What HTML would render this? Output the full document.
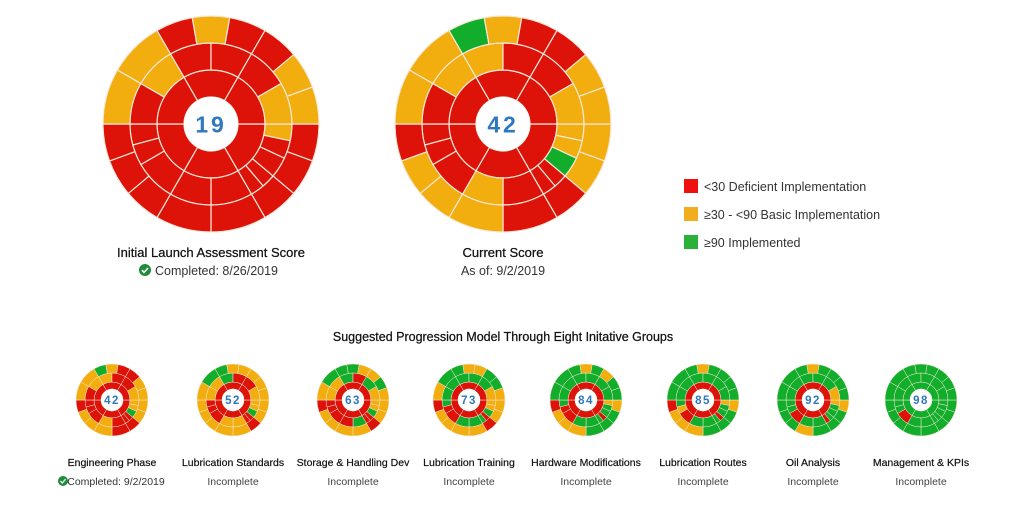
<!DOCTYPE html>
<html><head><meta charset="utf-8"><style>
body{margin:0;background:#fff;font-family:"Liberation Sans",sans-serif;}
svg text{font-family:"Liberation Sans",sans-serif;}
</style></head><body>
<svg id="s" width="1024" height="500" xmlns="http://www.w3.org/2000/svg">
<rect width="1024" height="500" fill="#fff"/>
<g id="charts"></g>
<text x="211" y="257" text-anchor="middle" font-size="13" fill="#111" stroke="#111" stroke-width="0.25">Initial Launch Assessment Score</text>
<circle cx="145" cy="270" r="6" fill="#1e8a3a"/><path d="M142 270 l2 2.5 l4 -4.5" stroke="#fff" stroke-width="1.6" fill="none"/>
<text x="155" y="275" font-size="12.5" fill="#333">Completed: 8/26/2019</text>
<text x="503" y="257" text-anchor="middle" font-size="13" fill="#111" stroke="#111" stroke-width="0.25">Current Score</text>
<text x="503" y="275" text-anchor="middle" font-size="12.5" fill="#333">As of: 9/2/2019</text>
<rect x="684" y="179" width="14" height="14" fill="#ee1111"/>
<text x="704" y="191" font-size="12.5" fill="#333">&lt;30 Deficient Implementation</text>
<rect x="684" y="207" width="14" height="14" fill="#f2ad1f"/>
<text x="704" y="219" font-size="12.5" fill="#333">≥30 - &lt;90 Basic Implementation</text>
<rect x="684" y="235" width="14" height="14" fill="#2bb03a"/>
<text x="704" y="247" font-size="12.5" fill="#333">≥90 Implemented</text>
<text x="503" y="341" text-anchor="middle" font-size="12.5" fill="#111" stroke="#111" stroke-width="0.25">Suggested Progression Model Through Eight Initative Groups</text>
<g id="labels" font-size="10.5" fill="#222" text-anchor="middle"></g>
</svg>
<script>
var C={R:"#dd1208",Y:"#f2ad0f",G:"#12ae2b"};
var inner=[[0,60],[60,120],[120,180],[180,240],[240,300],[300,360]];
var mid=[[0,12],[12,25],[25,40],[40,50],[50,60],[60,90],[90,120],[120,150],[150,165],[165,180],[180,210],[210,240],[240,270],[270,300],[300,330],[330,360]];
var out=[[0,20],[20,40],[40,60],[60,90],[90,120],[120,140],[140,160],[160,180],[180,210],[210,240],[240,260],[260,280],[280,300],[300,320],[320,340],[340,360]];
function pt(cx,cy,r,a){a=a*Math.PI/180;return (cx+r*Math.cos(a)).toFixed(2)+" "+(cy+r*Math.sin(a)).toFixed(2);}
function sec(cx,cy,r0,r1,a0,a1,col,sw){
 var l=(a1-a0)>180?1:0;
 return '<path d="M'+pt(cx,cy,r1,a0)+' A'+r1+' '+r1+' 0 '+l+' 1 '+pt(cx,cy,r1,a1)+' L'+pt(cx,cy,r0,a1)+' A'+r0+' '+r0+' 0 '+l+' 0 '+pt(cx,cy,r0,a0)+'Z" fill="'+C[col]+'" stroke="#f6e8d8" stroke-width="'+sw+'"/>';
}
function chart(cx,cy,R,ci,cm,co,num,fs,hole){
 var h=hole,r1=R*0.5,r2=R*0.75,s='',sw=R>60?1.2:0.5;
 inner.forEach(function(g,i){s+=sec(cx,cy,h,r1,g[0],g[1],ci[i],sw);});
 mid.forEach(function(g,i){s+=sec(cx,cy,r1,r2,g[0],g[1],cm[i],sw);});
 out.forEach(function(g,i){s+=sec(cx,cy,r2,R,g[0],g[1],co[i],sw);});
 s+='<circle cx="'+cx+'" cy="'+cy+'" r="'+h+'" fill="#fff"/>';
 s+='<text x="'+cx+'" y="'+(cy+fs*0.36)+'" text-anchor="middle" font-size="'+fs+'" font-weight="bold" fill="#2f78c0" letter-spacing="'+(fs/8)+'">'+num+'</text>';
 return s;
}
var RI="RRRRRR";
var D=[
 ["YRRRRRRRRRRYRRRY","RRRRRRRRYYRYRRYY"],
 ["YYGRRRYRRRRYYRRY","YYRRYYYRYYGYRRYY"],
 ["YYGRRYYRRRYYGRRY","YYRYYYYYYGGYYYYY"],
 ["YYGRRGRRRRYYGRGY","YYRYYYYRYGGGYYGY"],
 ["YYGRGGGRRGGGGGGY","YYRYYYYRYGGYYGGY"],
 ["YGGRGGGRRGGGGGGG","YGGGYYYRGGGYGYGG"],
 ["YGGRGGGRYGGGGGGG","YGGGYYYRGGGYGGGG"],
 ["YGGGRGGRGGGGGGGY","YGGGYGGGGGGYGGGG"],
 ["GGGGGGGRGGGGGGGG","GGGGGGGGGGGGGGGG"]
];
var h='';
h+=chart(211,124,108,RI,D[0][0],D[0][1],"19",23,27);
h+=chart(503,124,108,RI,D[1][0],D[1][1],"42",23,27);
var xs=[112,233,353,469,586,703,813,921],nums=["42","52","63","73","84","85","92","98"];
xs.forEach(function(x,i){var d=D[i+1];h+=chart(x,400,36,i==7?"GGGGGG":RI,d[0],d[1],nums[i],11.5,11);});
document.getElementById("charts").innerHTML=h;
var names=["Engineering Phase","Lubrication Standards","Storage & Handling Dev","Lubrication Training","Hardware Modifications","Lubrication Routes","Oil Analysis","Management & KPIs"];
var l='';
xs.forEach(function(x,i){
 l+='<text x="'+x+'" y="466" fill="#111" stroke="#111" stroke-width="0.2">'+names[i].replace("&","&amp;")+'</text>';
 if(i==0){l+='<circle cx="63" cy="481" r="5" fill="#1e8a3a"/><path d="M60.5 481 l1.8 2 l3.2 -3.8" stroke="#fff" stroke-width="1.3" fill="none"/><text x="116" y="485" fill="#333">Completed: 9/2/2019</text>';}
 else l+='<text x="'+x+'" y="485" fill="#444">Incomplete</text>';
});
document.getElementById("labels").innerHTML=l;
</script>
</body></html>
